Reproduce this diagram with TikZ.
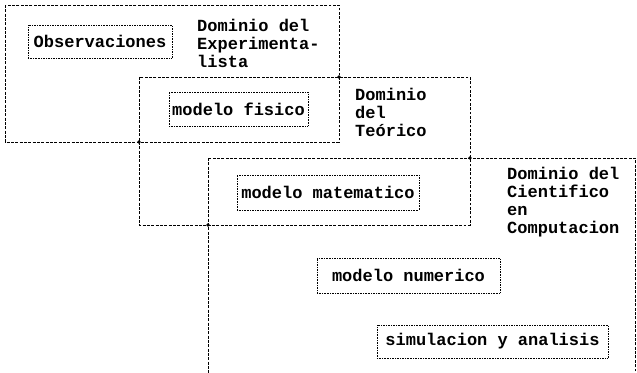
\documentclass[tikz,border=0pt]{standalone}
\usepackage{fontspec}
\setmainfont{Liberation Mono}
\begin{document}
\begin{tikzpicture}[x=0.03cm,y=-0.03cm,
    dominio/.style={thin,dash pattern=on 2.5pt off 1.2pt},
    bloque/.style={draw,densely dotted,inner sep=0pt},
    rotulo/.style={anchor=north west,inner sep=0pt,align=left},
    every node/.style={font=\fontsize{14.5pt}{15.4pt}\selectfont\bfseries}]
    \clip (0,0) rectangle (637,373);

    % dominios
    \draw[dominio] (5,5) rectangle (339,142);
    \draw[dominio] (139,77) rectangle (470,225);
    \draw[dominio] (208,158) rectangle (635,385);
    \fill (339,77) circle (1.6pt);
    \fill (139,142) circle (1.6pt);
    \fill (470,158) circle (1.6pt);
    \fill (208,225) circle (1.6pt);

    \node[rotulo] (dexp) at (197,19) {Dominio del\\Experimenta-\\lista};
    \node[rotulo] (dteo) at (355,88) {Dominio\\del\\Teórico};
    \node[rotulo] (dcie) at (507,167) {Dominio del\\Cientifico\\en\\Computacion};

    % etapas
    \node[bloque,minimum width=4.32cm,minimum height=0.99cm] (obs) at (100,41.5) {Observaciones};
    \node[bloque,minimum width=4.17cm,minimum height=1.02cm] (fis) at (238.5,109) {modelo fisico};
    \node[bloque,minimum width=5.46cm,minimum height=1.05cm] (mat) at (328,192.5) {modelo matematico};
    \node[bloque,minimum width=5.49cm,minimum height=1.05cm] (num) at (408.5,275.5) {modelo numerico};
    \node[bloque,minimum width=6.93cm,minimum height=0.99cm] (sim) at (492.5,341.5) {simulacion y analisis};
\end{tikzpicture}
\end{document}
